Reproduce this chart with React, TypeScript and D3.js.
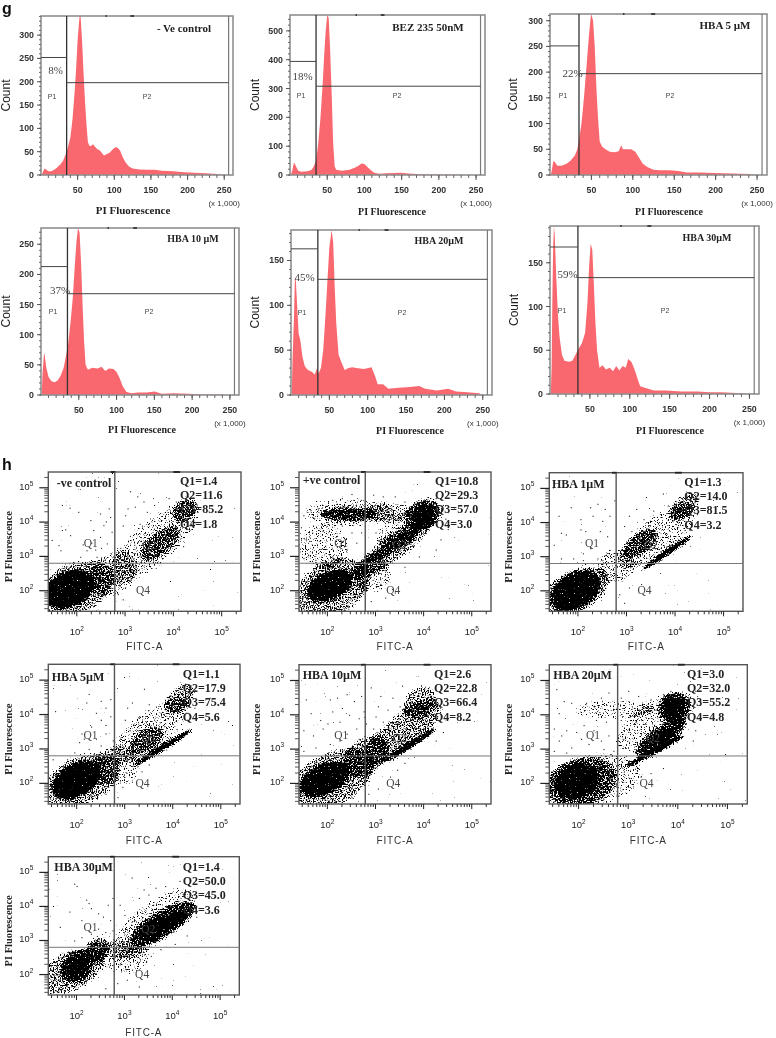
import React from 'react';
import * as d3 from 'd3';

// histogram series, [PI fluorescence (x 1,000), count]
const histControl = [[1,0],[3,8],[5,14],[7,12],[10,8],[14,8],[18,11],[22,16],[26,22],[30,30],[33,42],[36,55],[40,80],[43,120],[46,180],[48,230],[50,290],[52,330],[53,345],[54,341],[56,290],[58,220],[60,160],[62,110],[64,70],[66,63],[68,62],[71,66],[74,60],[77,55],[80,53],[83,47],[86,42],[90,45],[94,48],[98,55],[102,60],[105,58],[108,52],[111,40],[115,28],[120,18],[125,14],[130,13],[135,12],[145,11],[155,11],[165,9],[180,8],[195,6],[210,5],[225,4],[240,2],[250,0]];
const histBez = [[1,0],[3,15],[5,40],[6,42],[8,30],[11,15],[15,11],[20,12],[25,14],[29,18],[32,30],[35,50],[38,110],[41,200],[44,320],[46,420],[48,500],[50,555],[52,545],[54,430],[56,280],[58,110],[60,30],[62,18],[70,15],[80,18],[87,25],[92,32],[96,40],[100,38],[104,28],[108,18],[113,8],[120,4],[130,6],[148,8],[160,5],[175,3],[200,2],[225,1],[240,0]];
const histHba5 = [[1,0],[2,8],[4,27],[6,25],[9,18],[14,18],[20,22],[25,28],[30,38],[33,50],[35,68],[38,100],[41,150],[44,210],[47,270],[49,305],[50,313],[52,300],[54,250],[56,170],[58,110],[60,65],[63,55],[67,50],[72,45],[78,44],[83,46],[86,58],[88,50],[92,50],[98,50],[103,45],[107,35],[112,22],[118,15],[125,10],[133,9],[145,9],[155,8],[165,5],[180,5],[200,4],[220,3],[240,2],[250,0]];
const histHba10 = [[1,0],[2,35],[4,70],[5,65],[7,45],[10,30],[14,23],[18,21],[22,24],[26,32],[30,45],[33,65],[36,85],[39,120],[42,160],[45,220],[47,255],[49,277],[51,270],[53,220],[55,150],[57,90],[59,50],[62,42],[68,45],[75,44],[80,47],[85,40],[90,44],[96,43],[100,38],[104,28],[108,15],[113,5],[120,3],[128,4],[140,4],[150,6],[160,2],[175,3],[195,2],[215,1],[240,1],[245,0]];
const histHba20 = [[1,0],[2,40],[4,90],[5,128],[6,132],[8,100],[10,68],[12,62],[15,42],[18,32],[22,28],[27,26],[31,23],[34,30],[36,24],[39,30],[42,50],[45,90],[48,135],[50,165],[53,184],[55,170],[57,120],[59,80],[62,45],[66,36],[70,28],[75,30],[80,31],[85,30],[95,29],[105,31],[110,20],[113,12],[120,12],[127,7],[140,8],[155,9],[167,10],[175,7],[190,5],[205,7],[215,4],[230,3],[245,2],[250,0]];
const histHba30 = [[1,0],[2,30],[3,110],[4,170],[5,192],[6,180],[8,130],[10,90],[12,65],[15,45],[18,38],[24,37],[28,38],[32,45],[36,52],[40,58],[44,70],[47,105],[49,145],[51,172],[53,165],[55,125],[57,80],[59,50],[62,30],[66,33],[70,28],[75,30],[79,26],[83,32],[87,27],[91,32],[95,30],[98,40],[102,37],[106,28],[110,17],[113,9],[120,7],[130,4],[145,4],[165,3],[185,3],[200,2],[215,2],[240,1],[250,0]];

const histTitles = ['- Ve  control', 'BEZ 235 50nM', 'HBA 5 µM', 'HBA 10 µM', 'HBA  20µM', 'HBA  30µM'];
const histPercents = ['8%', '18%', '22%', '37%', '45%', '59%'];
const histSeries = [histControl, histBez, histHba5, histHba10, histHba20, histHba30];
const histMax = [341, 555, 313, 277, 184, 192];
const histStep = [50, 100, 50, 50, 50, 50];
const histGateHigh = [252, 394, 251, 213, 163, 168];
const histGateLow = [198, 308, 197, 168, 129, 133];
const histTicks = [50, 100, 150, 200, 250];

// density regions of the dot plots: [log FITC, log PI, half width, half height, angle, level]
const regionsControl = [[3.6,3.4,1.2,.62,-42,0],[2.75,2.5,.55,.6,-40,0],[1.95,2.05,.85,.75,-25,1],[3.72,3.38,.5,.32,-40,1],[4.24,4.35,.3,.3,-50,1],[1.85,2.05,.55,.5,-25,3]];
const regionsPositive = [[1.91,3.3,.55,.65,0,0],[3.29,4.28,.55,.3,0,0],[3.57,3.9,.65,.35,-30,0],[2.94,2.44,.4,.5,0,0],[2.46,4.28,.95,.42,0,0],[2.08,2.05,.85,.8,-30,1],[3.36,3.25,1.05,.38,-36,1],[2.43,4.23,.58,.2,0,2],[3.36,3.31,.78,.14,-32,2],[4.01,4.23,.38,.44,-30,2],[2.05,2.15,.5,.4,-25,3],[4.01,4.23,.24,.26,-30,3]];
const regionsHba1 = [[3.63,3.6,.98,.55,-38,0],[2.8,2.73,.4,.5,0,0],[4.19,4.48,.38,.3,-45,1],[1.95,2,.75,.62,-25,1],[3.84,3.12,.65,.09,-35,3],[1.95,2,.55,.5,-30,3],[3.3,3.4,.4,.3,-35,1]];
const regionsHba5 = [[3.53,3.53,1,.55,-38,0],[2.1,2.08,.85,.7,-25,1],[4.15,4.46,.38,.33,-45,1],[2.84,2.51,.5,.6,0,0],[3.45,3.25,.4,.3,-35,1],[3.81,3.05,.75,.09,-32,3],[2,2.1,.55,.46,-30,3]];
const regionsHba10 = [[2.05,2.08,1,.78,-28,1],[3.57,3.5,1,.52,-38,1],[2.8,2.8,.52,.52,-40,1],[3.7,3.1,.7,.09,-32,3],[3.91,4.36,.38,.42,-45,1],[1.95,2.13,.55,.42,-25,3]];
const regionsHba20 = [[2.3,2.1,1,.75,-10,0],[3.55,3.78,.9,.62,-35,0],[2.72,4.17,.8,.28,0,0],[2.03,2.03,.76,.7,-15,1],[3.55,2.95,.68,.09,-28,3],[3.66,3.34,.62,.3,-35,2],[3.93,4.21,.32,.44,-55,2],[1.97,2.08,.45,.48,-20,3],[3.66,3.34,.32,.16,-30,3],[3.93,4.21,.2,.3,-55,3]];
const regionsHba30 = [[3.6,3.5,1.1,.6,-38,0],[2.98,2.53,.55,.5,0,0],[1.88,2.1,.75,.58,-25,1],[2.01,2.24,.38,.4,-40,2],[2.43,2.73,.28,.32,-45,2],[3.81,3.5,.78,.38,-30,2],[3.53,3.02,.5,.08,-28,2],[2.01,2.22,.22,.22,-40,3],[3.81,3.5,.55,.17,-25,3]];

// single events visible outside the dense regions: [log FITC, log PI]
const dotsControl = [[1.69,4.5],[2.03,4.3],[1.85,4.42],[1.69,3.77],[1.76,3.79],[1.48,3.48],[1.62,3.33],[1.86,3.62],[2.28,4.06],[2.48,4.25],[2.66,4.4],[2.69,4.15],[2.55,3.91],[2.34,3.77],[2.48,3.57],[2.62,3.38],[2.2,3.18],[2.07,2.99],[2.41,2.99],[2.55,2.9],[1.93,2.84],[1.66,3.18],[2.6,4.02],[2.72,3.72],[2.5,3.25],[2.3,3.4],[2.7,3.1],[2.75,3],[2.38,3.2],[2.12,3.35],[3.1,4.9],[3.25,4.75],[3.38,4.6],[3.05,4.4],[3,4.2],[3.2,4.45],[3.6,4.5],[3.9,4.7],[4.05,4.6],[4.3,4.75],[4.4,4.6],[3.45,4.3],[3.3,3.95],[2.95,3.9],[3.1,3.6],[2.9,3.25],[3.05,3],[3.35,2.75],[3.15,2.6],[2.9,2.4],[3,2.1],[3.45,2.55],[2.85,1.9],[2.95,1.75],[4.1,3.75],[4.3,3.9],[4.2,3.3],[4.5,4.3],[4.45,4],[3.95,3.1]];
const dotsPositive = [[1.5,2.95],[1.6,3.05],[1.75,2.9],[1.95,2.85],[2.1,3],[2.35,2.95],[2.55,2.88],[2.4,3.2],[2.6,3.4],[2.5,3.7],[2.2,3.6],[1.55,3.5],[1.45,3.85],[1.7,3.9],[1.9,3.75],[2.3,3.9],[2.7,3.7],[1.5,4.2],[1.65,4.35],[1.8,4.4],[2.1,4.65],[2.3,4.7],[2.5,4.82],[2.7,4.65],[2.95,4.8],[3.15,4.75],[3.4,4.75],[3.6,4.6],[3.85,4.55],[4.25,4.7],[4.4,4.5],[4.45,4.1],[4.5,3.8],[4.35,3.5],[4.25,3.2],[3.9,3],[3.6,2.7],[3.2,2.6],[3.1,2.2],[3.4,1.95],[3.2,1.8],[2.9,1.7],[2.65,1.85],[1.5,1.55],[1.7,1.6],[2.3,1.7],[1.55,2.4],[2.75,4.1],[3,3.7],[3.15,3.4]];
const dotsHba1 = [[1.6,4.2],[1.85,4.45],[2.25,4.45],[2.4,4.55],[2.55,4.4],[2.75,4.65],[2.3,4.2],[2.5,4.05],[2.05,4.1],[2.65,4.2],[1.75,3.65],[1.65,3.7],[2.05,3.8],[2.15,3.75],[2.45,3.75],[2.6,3.6],[2.65,3.2],[2.55,3.05],[2.1,3.1],[2.25,3.25],[1.9,2.95],[1.65,2.95],[1.5,3.35],[2.1,2.9],[2.8,3.1],[2.4,2.95],[3.05,4.2],[3.2,4.4],[3.4,4.75],[3.75,4.85],[3.35,4.1],[2.95,3.9],[3.1,3.75],[3,3.4],[3.2,3.15],[2.95,3],[3.1,2.85],[3.55,4.35],[3.85,4.5],[4.1,4.75],[4.4,4.6],[4.45,4.25],[2.9,2.4],[3.05,2.1],[2.85,1.9],[2.95,1.65],[3.3,2.2],[2.6,2.5],[2.45,2.3],[3.3,2.9]];
const dotsHba5 = [[1.55,4.1],[2.25,4.6],[2.2,4.35],[2.5,4.4],[2.7,4.45],[2.6,4.2],[2.4,4.05],[2.7,3.95],[2.3,3.65],[2.1,3.45],[2.15,3.3],[2.05,3.2],[2.4,3.3],[2.6,3.45],[2.5,3.1],[2.25,3],[2.65,2.95],[2.75,3.25],[1.95,2.9],[2.35,2.85],[2.6,3.7],[2.5,3.85],[3.15,4.35],[3.05,4.2],[3.4,4.75],[3.5,4.3],[3.7,4.25],[3.95,4.55],[4.2,4.85],[3.3,3.95],[3,3.85],[3.1,3.55],[2.9,3.3],[3.15,3.15],[4.4,4.6],[4.45,4.2],[4.3,3.85],[3.75,4.05],[2.95,1.9],[2.85,1.6],[3.15,2.05],[2.6,1.7],[2.3,1.65],[1.7,1.55],[1.5,2.7],[1.8,2.7],[3.35,2.35],[3.5,2.55]];
const dotsHba10 = [[1.55,4.45],[1.5,3.55],[1.7,3.4],[1.9,3.6],[1.65,4.05],[2.05,4.45],[2.2,4.5],[2.4,4.6],[2.55,4.4],[2.7,4.55],[2.3,4.2],[2.1,4.1],[2.45,4],[2.65,3.9],[2.25,3.8],[2,3.75],[1.85,3.85],[2.6,3.6],[2.4,3.45],[2.25,3.25],[2.05,3.15],[1.75,3.05],[1.5,2.95],[2.3,3],[2.65,3.3],[2.75,4.1],[2.8,3.75],[2.9,4.8],[3.1,4.55],[3.35,4.5],[3.55,4.85],[3.05,4.25],[3.25,4.15],[3.5,4.25],[3.65,4.1],[3,3.95],[3.15,3.8],[2.95,3.6],[4.35,4.75],[4.4,4.3],[4.3,3.85],[4.4,3.5],[3.7,4.6],[3.3,2.2],[3.05,1.85],[2.85,1.7],[2.5,1.6],[3.45,2.4],[3.6,2.6],[4.25,3.25]];
const dotsHba20 = [[1.55,4.75],[1.7,4.4],[1.85,4.35],[1.6,4.05],[1.5,3.6],[1.65,3.4],[1.6,3.25],[1.75,3.55],[1.95,3.5],[2.1,3.7],[2.05,3.3],[2.2,3.15],[1.85,3.05],[1.5,2.95],[1.75,2.9],[2.3,3.55],[2.45,3.25],[2.6,3.4],[2.35,3.85],[2.55,3.8],[2.5,3],[2.7,2.95],[2.15,4.35],[2.3,4.25],[2.45,4.5],[2.6,4.65],[2.85,4.5],[3,4.7],[3.2,4.55],[3.45,4.45],[3.7,4.6],[3.55,4.15],[3.15,3.8],[3,3.5],[2.9,3.3],[3.2,3.1],[2.85,3.85],[4.35,4.7],[4.45,4.4],[4.45,3.9],[4.35,3.55],[4.3,3.25],[3.85,4.7],[3.25,2.2],[3,1.9],[2.8,1.65],[3.45,2.3],[3.7,2.45],[2.5,1.55],[1.45,2.35]];
const dotsHba30 = [[1.95,4.67],[2,4.6],[2.2,4.2],[2.25,4.1],[2.3,3.95],[2.45,3.8],[2.55,3.7],[2.65,4.05],[2.7,3.6],[1.85,3.85],[1.65,3.4],[2.1,3.6],[2.45,3.35],[2.6,3.25],[2.3,3.2],[2.1,3.1],[2.75,3.3],[1.95,3],[2.55,3],[2.7,2.95],[2.75,4.25],[2.9,4.05],[3.15,4.85],[3.4,4.5],[3.5,4.35],[3.3,4.25],[3.65,4.55],[3.85,4.6],[4.15,4.75],[3,3.75],[3.15,3.55],[2.95,3.35],[3.1,3.05],[3.35,3.15],[4.45,4.35],[4.5,4],[4.5,3.7],[4.3,3.15],[4.05,2.9],[3.3,2.15],[3.45,2.4],[3.05,1.85],[3.3,1.65],[2.85,1.75],[2.6,1.6],[2.9,2.3],[3.75,2.75],[3.55,2.55],[3.6,4.05],[3.85,4.25]];

const dotTitles = ['-ve control', '+ve control', 'HBA 1µM', 'HBA 5µM', 'HBA 10µM', 'HBA 20µM', 'HBA 30µM'];
const dotQ1 = [1.4, 10.8, 1.3, 1.1, 2.6, 3.0, 1.4];
const dotQ2 = [11.6, 29.3, 14.0, 17.9, 22.8, 32.0, 50.0];
const dotQ3 = [85.2, 57.0, 81.5, 75.4, 66.4, 55.2, 45.0];
const dotQ4 = [1.8, 3.0, 3.2, 5.6, 8.2, 4.8, 3.6];
const dotRegions = [regionsControl, regionsPositive, regionsHba1, regionsHba5, regionsHba10, regionsHba20, regionsHba30];
const dotEvents = [dotsControl, dotsPositive, dotsHba1, dotsHba5, dotsHba10, dotsHba20, dotsHba30];
const decades = [2, 3, 4, 5];

// page layout of the panels
const histLayout = [
  { l: 41, t: 16, r: 233, b: 175, countX: 6, titleX: 184, titleY: 32, pctX: 55.7, pctY: 74, pY: 99, p1: 52, p2: 147, xTitle: 133, xTitleY: 214, size: 11, xSize: 11 },
  { l: 290, t: 15, r: 485, b: 175, countX: 255, titleX: 428, titleY: 31, pctX: 302.7, pctY: 80, pY: 98, p1: 301, p2: 397, xTitle: 392, xTitleY: 215, size: 11, xSize: 10 },
  { l: 550, t: 14, r: 767, b: 175, countX: 513, titleX: 725, titleY: 29, pctX: 572.7, pctY: 77, pY: 98, p1: 563, p2: 670, xTitle: 669, xTitleY: 215, size: 11, xSize: 10 },
  { l: 41, t: 228, r: 239, b: 395, countX: 6, titleX: 193, titleY: 242, pctX: 60, pctY: 294, pY: 314, p1: 53, p2: 149, xTitle: 142, xTitleY: 433, size: 10, xSize: 10 },
  { l: 291, t: 230, r: 492, b: 395, countX: 255, titleX: 439, titleY: 244, pctX: 304.7, pctY: 281, pY: 315, p1: 302, p2: 402, xTitle: 410, xTitleY: 434, size: 10, xSize: 10 },
  { l: 550, t: 226, r: 759, b: 394, countX: 514, titleX: 707, titleY: 241, pctX: 567.7, pctY: 278, pY: 313, p1: 562, p2: 665, xTitle: 670, xTitleY: 434, size: 10, xSize: 10 },
];
const dotLayout = [
  { l: 48.3, t: 472, r: 241, b: 611.3, labelX: 8, titleX: 56.7, titleY: 487, qX: 180, qY: 485, axisY: 650 },
  { l: 299, t: 472, r: 491, b: 611.3, labelX: 256, titleX: 302.7, titleY: 484, qX: 435, qY: 485, axisY: 650 },
  { l: 549.3, t: 472.7, r: 743, b: 611.3, labelX: 508, titleX: 552, titleY: 488, qX: 684.3, qY: 486, axisY: 650 },
  { l: 48.3, t: 664.3, r: 240, b: 804, labelX: 8, titleX: 51.7, titleY: 681, qX: 182.7, qY: 678, axisY: 844 },
  { l: 299, t: 664.7, r: 491, b: 804, labelX: 256, titleX: 302.7, titleY: 679, qX: 434, qY: 678, axisY: 844 },
  { l: 549.3, t: 664.7, r: 747.3, b: 804, labelX: 508, titleX: 553.3, titleY: 679, qX: 687, qY: 678, axisY: 844 },
  { l: 48.3, t: 856.7, r: 239.3, b: 995, labelX: 8, titleX: 54.3, titleY: 871, qX: 182.7, qY: 871, axisY: 1036 },
];

const serif = '"Liberation Serif", serif';
const sans = '"Liberation Sans", sans-serif';
const area = '#f9686e';
const levelDensity = [0.36, 0.52, 0.68, 1];

function Histogram({ index }) {
  const box = histLayout[index];
  const x = d3.scaleLinear().domain([0, 262]).range([box.l, box.r]);
  const y = d3.scaleLinear().domain([0, histMax[index]]).range([box.b, box.t]);
  const shape = d3.area().x(d => x(d[0])).y0(box.b).y1(d => y(d[1]));
  const step = histStep[index];
  const major = d3.range(0, histMax[index], step);
  const minor = d3.range(0, histMax[index], step / 5);
  const gx = x(35);
  const midY = (box.t + box.b) / 2;
  return (
    <g>
      <clipPath id={`hist-${index}`}><rect x={box.l} y={box.t} width={box.r - box.l} height={box.b - box.t} /></clipPath>
      <path d={shape(histSeries[index])} fill={area} clipPath={`url(#hist-${index})`} />
      <rect x={box.l} y={box.t} width={box.r - box.l} height={box.b - box.t} fill="none" stroke="#8f8f8f" strokeWidth={1.6} />
      <line x1={x(88)} x2={x(90)} y1={box.t} y2={box.t} stroke="#222" strokeWidth={1.5} />
      <line x1={x(122)} x2={x(127)} y1={box.t} y2={box.t} stroke="#222" strokeWidth={1.5} />
      <line x1={x(256)} x2={x(256)} y1={box.t} y2={box.b} stroke="#7a7a7a" strokeWidth={1.2} />
      <line x1={gx} x2={gx} y1={box.t} y2={box.b} stroke="#333" strokeWidth={1.3} />
      <line x1={box.l} x2={gx} y1={y(histGateHigh[index])} y2={y(histGateHigh[index])} stroke="#444" strokeWidth={1} />
      <line x1={gx} x2={x(256)} y1={y(histGateLow[index])} y2={y(histGateLow[index])} stroke="#444" strokeWidth={1} />
      {minor.map(v => <line key={v} x1={box.l - 2} x2={box.l} y1={y(v)} y2={y(v)} stroke="#666" />)}
      {major.map(v => (
        <g key={v}>
          <line x1={box.l - 4} x2={box.l} y1={y(v)} y2={y(v)} stroke="#555" />
          <text x={box.l - 7} y={y(v) + 3} textAnchor="end" fontFamily={sans} fontWeight="bold" fontSize={8.8} fill="#333">{v}</text>
        </g>
      ))}
      {d3.range(10, 260, 10).map(v => <line key={v} x1={x(v)} x2={x(v)} y1={box.b} y2={box.b + 3} stroke="#666" />)}
      {histTicks.map(v => (
        <g key={v}>
          <line x1={x(v)} x2={x(v)} y1={box.b} y2={box.b + 5} stroke="#555" />
          <text x={x(v)} y={box.b + 18} textAnchor="middle" fontFamily={sans} fontWeight="bold" fontSize={8.8} fill="#333">{v}</text>
        </g>
      ))}
      <text x={x(250)} y={box.b + 31} textAnchor="middle" fontFamily={sans} fontSize={8} fill="#333">(x 1,000)</text>
      <text transform={`translate(${box.countX},${midY}) rotate(-90)`} dy="0.35em" textAnchor="middle" fontFamily={sans} fontSize={12} fill="#222">Count</text>
      <text x={box.titleX} y={box.titleY} textAnchor="middle" fontFamily={serif} fontWeight="bold" fontSize={box.size} fill="#222">{histTitles[index]}</text>
      <text x={box.pctX} y={box.pctY} textAnchor="middle" fontFamily={serif} fontSize={11} fill="#444">{histPercents[index]}</text>
      <text x={box.p1} y={box.pY} textAnchor="middle" fontFamily={sans} fontSize={7} fill="#444">P1</text>
      <text x={box.p2} y={box.pY} textAnchor="middle" fontFamily={sans} fontSize={7} fill="#444">P2</text>
      <text x={box.xTitle} y={box.xTitleY} textAnchor="middle" fontFamily={serif} fontWeight="bold" fontSize={box.xSize} fill="#222">PI Fluorescence</text>
    </g>
  );
}

function DotPlot({ index }) {
  const box = dotLayout[index];
  // both axes are log10, the values are stored as exponents
  const x = d3.scaleLinear().domain([1.41, 5.4]).range([box.l, box.r]);
  const y = d3.scaleLinear().domain([1.4, 5.46]).range([box.b, box.t]);
  const minor = d3.range(1, 6).flatMap(d => d3.range(2, 10).map(k => d + Math.log10(k)));
  const lines = [`Q1=${dotQ1[index].toFixed(1)}`, `Q2=${dotQ2[index].toFixed(1)}`, `Q3=${dotQ3[index].toFixed(1)}`, `Q4=${dotQ4[index].toFixed(1)}`];
  const gain = 9;
  return (
    <g>
      {/* regions are painted as alpha, the filter turns that alpha into a speckle of events */}
      <filter id={`events-${index}`} filterUnits="userSpaceOnUse" x={box.l} y={box.t} width={box.r - box.l} height={box.b - box.t} colorInterpolationFilters="sRGB">
        <feGaussianBlur in="SourceAlpha" stdDeviation={1.8} result="density" />
        <feTurbulence type="fractalNoise" baseFrequency={0.75} numOctaves={2} seed={index + 3} result="raw" />
        <feColorMatrix in="raw" type="matrix" values="0 0 0 0 0  0 0 0 0 0  0 0 0 0 0  0 0 0 1 0" result="noise" />
        <feComposite in="density" in2="noise" operator="arithmetic" k1={0} k2={gain * 0.62} k3={gain} k4={-gain * 0.8} />
      </filter>
      <clipPath id={`dots-${index}`}><rect x={box.l} y={box.t} width={box.r - box.l} height={box.b - box.t} /></clipPath>
      <g clipPath={`url(#dots-${index})`}>
        <g filter={`url(#events-${index})`}>
          {dotRegions[index].map((d, i) => (
            <ellipse
              key={i}
              cx={x(d[0])}
              cy={y(d[1])}
              rx={x(d[0] + d[2]) - x(d[0])}
              ry={y(d[1]) - y(d[1] + d[3])}
              transform={`rotate(${d[4]} ${x(d[0])} ${y(d[1])})`}
              fill="#000"
              fillOpacity={levelDensity[d[5]]}
            />
          ))}
        </g>
        {dotEvents[index].map((d, i) => <rect key={i} x={x(d[0])} y={y(d[1])} width={1.1} height={1.1} fill="#222" />)}
      </g>
      <rect x={box.l} y={box.t} width={box.r - box.l} height={box.b - box.t} fill="none" stroke="#555" strokeWidth={1.4} />
      <line x1={x(2.7)} x2={x(2.8)} y1={box.t} y2={box.t} stroke="#222" strokeWidth={1.8} />
      <line x1={x(4)} x2={x(4.14)} y1={box.t} y2={box.t} stroke="#222" strokeWidth={1.8} />
      <line x1={x(2.787)} x2={x(2.787)} y1={box.t} y2={box.b} stroke="#555" strokeWidth={1.4} />
      <line x1={box.l} x2={box.r} y1={y(2.8)} y2={y(2.8)} stroke="#777" strokeWidth={1} />
      {minor.filter(v => v > 1.41 && v < 5.4).map(v => <line key={v} x1={x(v)} x2={x(v)} y1={box.b} y2={box.b + 3} stroke="#333" />)}
      {minor.filter(v => v > 1.4 && v < 5.46).map(v => <line key={v} x1={box.l - 4} x2={box.l} y1={y(v)} y2={y(v)} stroke="#555" />)}
      {decades.map(v => (
        <g key={v}>
          <line x1={x(v)} x2={x(v)} y1={box.b} y2={box.b + 5} stroke="#222" />
          <line x1={box.l - 9} x2={box.l} y1={y(v)} y2={y(v)} stroke="#222" strokeWidth={1.2} />
          <text x={x(v)} y={box.b + 24} textAnchor="middle" fontFamily={sans} fontSize={9.5} fill="#222">10<tspan dy={-4} fontSize={6.5}>{v}</tspan></text>
          <text x={box.l - 15} y={y(v) + 2} textAnchor="end" fontFamily={sans} fontSize={9.3} fill="#222">10<tspan dy={-4} fontSize={6.5}>{v}</tspan></text>
        </g>
      ))}
      <text x={x(2.29)} y={y(3.4) + 4} textAnchor="middle" fontFamily={serif} fontSize={11.5} fill="#444">Q1</text>
      <text x={x(3.5)} y={y(3.33) + 4} textAnchor="middle" fontFamily={serif} fontSize={11.5} fill="#444">Q2</text>
      <text x={x(3.37)} y={y(2.02) + 4} textAnchor="middle" fontFamily={serif} fontSize={11.5} fill="#444">Q4</text>
      <text x={box.titleX} y={box.titleY} fontFamily={serif} fontWeight="bold" fontSize={12} fill="#222">{dotTitles[index]}</text>
      {lines.map((t, i) => <text key={t} x={box.qX} y={box.qY + i * 14.2} fontFamily={serif} fontWeight="bold" fontSize={12} fill="#222">{t}</text>)}
      <text transform={`translate(${box.labelX},${(box.t + box.b) / 2 + 5}) rotate(-90)`} dy="0.35em" textAnchor="middle" fontFamily={serif} fontWeight="bold" fontSize={10.5} fill="#222">PI Fluorescence</text>
      <text x={(box.l + box.r) / 2} y={box.axisY} textAnchor="middle" fontFamily={sans} fontSize={10} letterSpacing={0.8} fill="#333">FITC-A</text>
    </g>
  );
}

export default function App() {
  return (
    <svg width={776} height={1038} style={{ position: 'absolute', left: 0, top: 0, background: '#fff' }}>
      <defs>
        <filter id="soft" x="0" y="0" width="100%" height="100%"><feGaussianBlur stdDeviation={0.4} /></filter>
      </defs>
      <g filter="url(#soft)">
        <rect width={776} height={1038} fill="#fff" />
        <text x={2} y={14} fontFamily={sans} fontWeight="bold" fontSize={16} fill="#111">g</text>
        <text x={2} y={470} fontFamily={sans} fontWeight="bold" fontSize={16} fill="#111">h</text>
        {histLayout.map((_, i) => <Histogram key={i} index={i} />)}
        {dotLayout.map((_, i) => <DotPlot key={i} index={i} />)}
      </g>
    </svg>
  );
}
